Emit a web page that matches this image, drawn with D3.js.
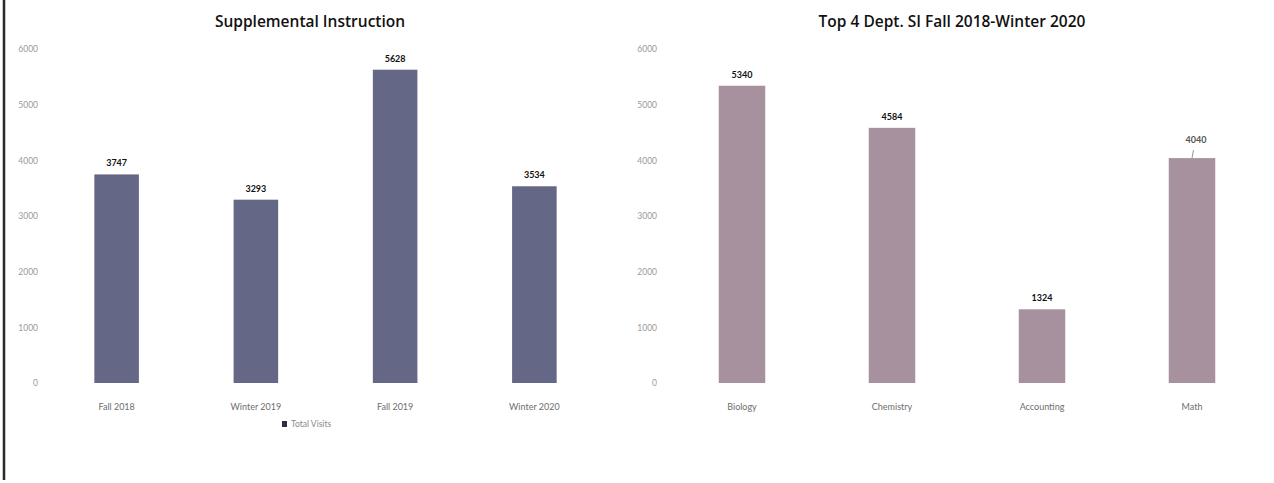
<!DOCTYPE html>
<html>
<head>
<meta charset="utf-8">
<script src="https://cdn.jsdelivr.net/npm/d3@7"></script>
<style>
  html, body { margin: 0; padding: 0; background: #fff; }
  svg { display: block; }
  text { font-family: Lato, "Open Sans", sans-serif; }
</style>
</head>
<body>
<svg id="chart" width="1274" height="483"></svg>
<script>
// Supplemental Instruction visits by term
const termCategories = ["Fall 2018", "Winter 2019", "Fall 2019", "Winter 2020"];
const termVisits = [3747, 3293, 5628, 3534];

// Top departments, Fall 2018 - Winter 2020
const deptCategories = ["Biology", "Chemistry", "Accounting", "Math"];
const deptVisits = [5340, 4584, 1324, 4040];

const yTicks = [0, 1000, 2000, 3000, 4000, 5000, 6000];
const seriesName = "Total Visits";

const svg = d3.select("#chart");

// frame line on the left edge
svg.append("line")
  .attr("x1", 4).attr("x2", 4).attr("y1", 0).attr("y2", 480)
  .attr("stroke", "#2a2a2a").attr("stroke-width", 2.5);

function drawPanel(opts) {
  const x = d3.scaleBand()
    .domain(opts.categories)
    .range(opts.xRange)
    .paddingInner(opts.padInner)
    .paddingOuter(opts.padInner / 2);

  const y = d3.scaleLinear().domain([0, 6000]).range([383, 49]);

  const g = svg.append("g");

  // title
  g.append("text")
    .attr("x", opts.titleX).attr("y", 27)
    .attr("text-anchor", "middle")
    .style("font-family", "'Open Sans', sans-serif")
    .style("font-size", "15.5px").style("font-weight", 600)
    .attr("fill", "#111")
    .text(opts.title);

  // value axis (labels only)
  const yAxis = d3.axisLeft(y).tickValues(yTicks).tickSize(0).tickPadding(0)
    .tickFormat(d3.format("d"));
  const ya = g.append("g").attr("transform", `translate(${opts.axisX},0)`).call(yAxis);
  ya.select(".domain").remove();
  ya.selectAll("text").attr("font-size", 8.5).attr("fill", "#9a9a9a");

  // category axis (labels only)
  const xAxis = d3.axisBottom(x).tickSize(0).tickPadding(0);
  const xa = g.append("g").attr("transform", "translate(0,404)").call(xAxis);
  xa.select(".domain").remove();
  xa.selectAll("text").attr("font-size", 9).attr("fill", "#6e6e6e");

  const data = opts.categories.map((c, i) => ({ c, v: opts.values[i] }));

  // bars
  g.selectAll("rect.bar").data(data).enter().append("rect")
    .attr("class", "bar")
    .attr("x", d => x(d.c))
    .attr("width", x.bandwidth())
    .attr("y", d => y(d.v))
    .attr("height", d => y(0) - y(d.v))
    .attr("fill", opts.color);

  // value labels
  const lifted = d => opts.liftIdx === opts.categories.indexOf(d.c);
  g.selectAll("text.val").data(data).enter().append("text")
    .attr("class", "val")
    .attr("x", d => x(d.c) + x.bandwidth() / 2 + (lifted(d) ? 4 : 0))
    .attr("y", d => y(d.v) - (lifted(d) ? 15 : 8))
    .attr("text-anchor", "middle")
    .attr("font-size", 9).attr("font-weight", 700)
    .attr("fill", d => lifted(d) ? "#555" : "#111")
    .text(d => d.v);

  // leader line for the lifted label
  if (opts.liftIdx != null) {
    const d = data[opts.liftIdx];
    const cx = x(d.c) + x.bandwidth() / 2;
    g.append("line")
      .attr("x1", cx + 1.5).attr("y1", y(d.v) - 8)
      .attr("x2", cx).attr("y2", y(d.v))
      .attr("stroke", "#777").attr("stroke-width", 0.8);
  }
  return g;
}

drawPanel({
  categories: termCategories, values: termVisits,
  xRange: [47, 604], padInner: 0.68, axisX: 38, titleX: 310,
  title: "Supplemental Instruction", color: "#646785"
});

drawPanel({
  categories: deptCategories, values: deptVisits,
  xRange: [667, 1267], padInner: 0.69, axisX: 657, titleX: 952,
  title: "Top 4 Dept. SI Fall 2018-Winter 2020", color: "#a8919f", liftIdx: 3
});

// legend for the term chart
const legend = svg.append("g").attr("transform", "translate(282,424)");
legend.append("rect").attr("x", 0).attr("y", -3).attr("width", 5).attr("height", 6)
  .attr("fill", "#2c2c3a");
legend.append("text").attr("x", 9).attr("y", 3)
  .attr("font-size", 8.5).attr("fill", "#8a8a8a")
  .text(seriesName);
</script>
</body>
</html>
